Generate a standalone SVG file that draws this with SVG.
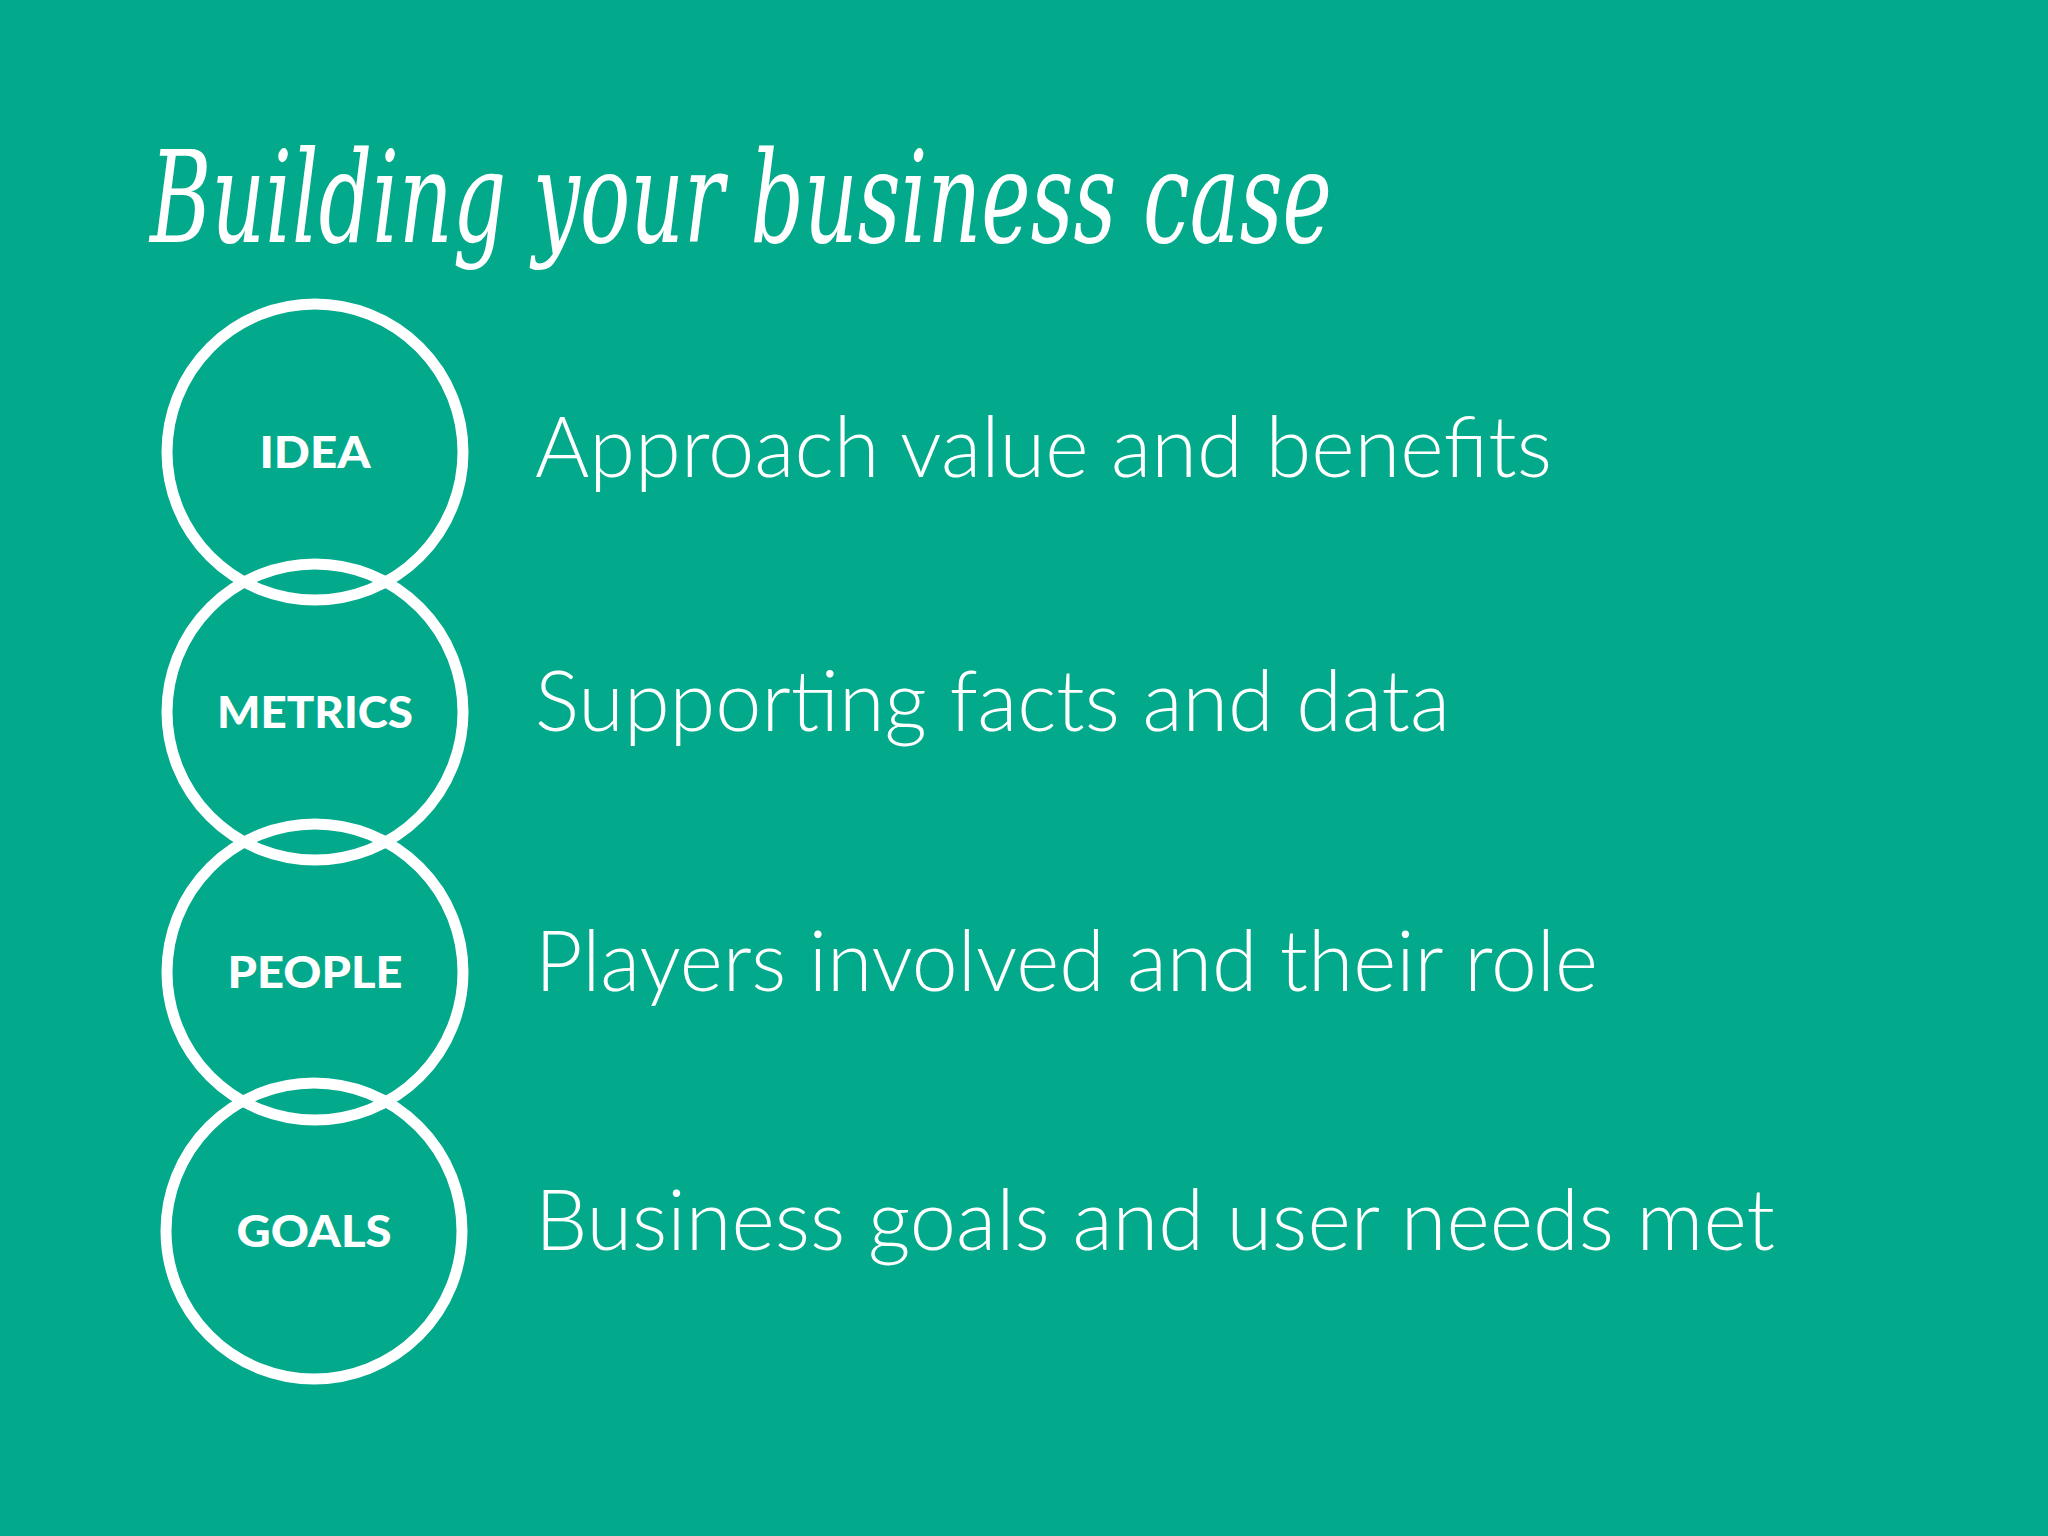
<svg xmlns="http://www.w3.org/2000/svg" width="2048" height="1536" viewBox="0 0 2048 1536">
<style>
.c{fill:none;stroke:#fff;stroke-width:11}
.l{font-family:Lato,"Noto Sans",sans-serif;font-weight:900;font-size:43px;fill:#fff;text-anchor:middle}
.t{font-family:Lato,"Noto Sans",sans-serif;font-weight:300;font-size:84px;fill:#fff}
</style>
<rect width="2048" height="1536" fill="#03a98b"/>
<text x="150" y="242" font-family="'DejaVu Serif',serif" font-style="italic" font-size="128" fill="#fff" textLength="1182" lengthAdjust="spacingAndGlyphs">Building your business case</text>
<g id="connectors"></g>
<g id="idea"><circle class="c" cx="315" cy="452" r="148"/><text class="l" x="315" y="468" textLength="111" lengthAdjust="spacingAndGlyphs">IDEA</text></g>
<g id="metrics"><circle class="c" cx="315" cy="712" r="148"/><text class="l" x="315" y="728" textLength="196" lengthAdjust="spacingAndGlyphs">METRICS</text></g>
<g id="people"><circle class="c" cx="315" cy="972" r="148"/><text class="l" x="315" y="988" textLength="175" lengthAdjust="spacingAndGlyphs">PEOPLE</text></g>
<g id="goals"><circle class="c" cx="314" cy="1231" r="148"/><text class="l" x="314" y="1247" textLength="155" lengthAdjust="spacingAndGlyphs">GOALS</text></g>
<text class="t" x="535" y="477" textLength="1017" lengthAdjust="spacingAndGlyphs">Approach value and benefits</text>
<text class="t" x="535" y="731" textLength="915" lengthAdjust="spacingAndGlyphs">Supporting facts and data</text>
<text class="t" x="535" y="991" textLength="1063" lengthAdjust="spacingAndGlyphs">Players involved and their role</text>
<text class="t" x="535" y="1250" textLength="1240" lengthAdjust="spacingAndGlyphs">Business goals and user needs met</text>
</svg>
